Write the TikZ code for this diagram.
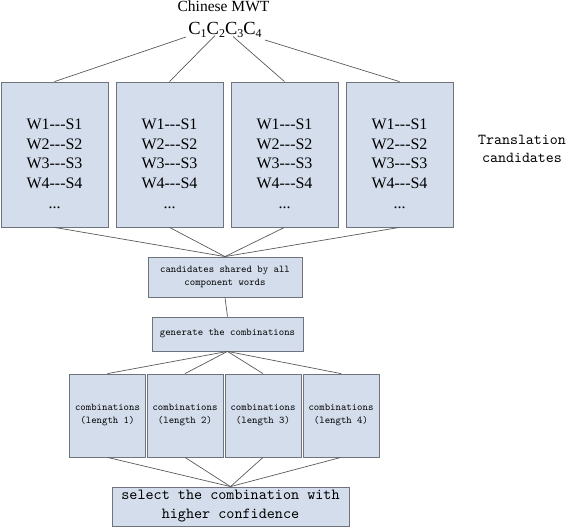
\documentclass[tikz,border=0pt]{standalone}
\usepackage{fontspec}
\setmainfont{Liberation Serif}
\setmonofont{lmmono10-regular.otf}
\definecolor{boxfill}{RGB}{211,221,236}
\definecolor{boxline}{RGB}{110,115,125}
\definecolor{conn}{RGB}{90,90,90}
\newcommand{\sbs}[1]{\raisebox{-0.3ex}{\fontsize{12}{12}\selectfont #1}}
\newcommand{\wline}[1]{W#1-{}-{}-S#1}
\begin{document}
\begin{tikzpicture}[x=1pt,y=-1pt,
  box/.style={draw=boxline,fill=boxfill,line width=0.8pt,inner sep=0pt,align=center},
  wbox/.style={box,minimum width=107pt,minimum height=145pt},
  cbox/.style={box,minimum width=76pt,minimum height=83pt,font=\ttfamily\fontsize{10.3}{13}\selectfont},
  wtext/.style={anchor=north,inner sep=0pt,align=center,font=\fontsize{16}{19.6}\selectfont},
  link/.style={draw=conn,line width=0.7pt}]
\useasboundingbox (0,0) rectangle (567,527);

% title
\node[anchor=base,inner sep=0pt,font=\fontsize{15.5}{18}\selectfont] (title) at (223.5,12) {Chinese MWT};
\node[anchor=base,inner sep=0pt,font=\fontsize{18.5}{20}\selectfont] (mwt) at (225,35) {C\sbs{1}C\sbs{2}C\sbs{3}C\sbs{4}};
\coordinate (s1) at (186,37);
\coordinate (s2) at (215,35.5);
\coordinate (s3) at (233,36.5);
\coordinate (s4) at (265,40);

% candidate boxes
\foreach \i/\x in {1/54.5,2/169.5,3/284.5,4/399.5}{
  \node[wbox] (b\i) at (\x,154.5) {};
  \node[wtext] (t\i) at (\x,119) {\wline1\\\wline2\\\wline3\\\wline4\\...};
  \draw[link] (s\i) -- (b\i.north);
}

\node[anchor=center,inner sep=0pt,align=center,font=\ttfamily\fontsize{15.2}{18}\selectfont] (trans) at (522,149) {Translation\\candidates};

% shared candidates
\node[box,minimum width=154pt,minimum height=40pt,font=\ttfamily\fontsize{10.3}{13}\selectfont] (cand) at (225,277) {candidates shared by all\\component words};
\foreach \i in {1,...,4}{\draw[link] (b\i.south) -- (cand.north);}

% generate
\node[box,minimum width=151pt,minimum height=34pt,font=\ttfamily\fontsize{10.3}{13}\selectfont] (gen) at (227.5,334) {generate the combinations};
\draw[link] (cand.south) -- (gen.north);

% combinations
\foreach \i/\x in {1/107.5,2/185,3/263,4/341}{
  \node[cbox] (k\i) at (\x,415.5) {combinations\\(length \i)};
  \draw[link] (gen.south) -- (k\i.north);
}

% select
\node[box,minimum width=237pt,minimum height=39pt,font=\ttfamily\fontsize{15.4}{19}\selectfont] (sel) at (230.5,506.5) {select the combination with\\higher confidence};
\foreach \i in {1,...,4}{\draw[link] (k\i.south) -- (sel.north);}
\end{tikzpicture}
\end{document}
